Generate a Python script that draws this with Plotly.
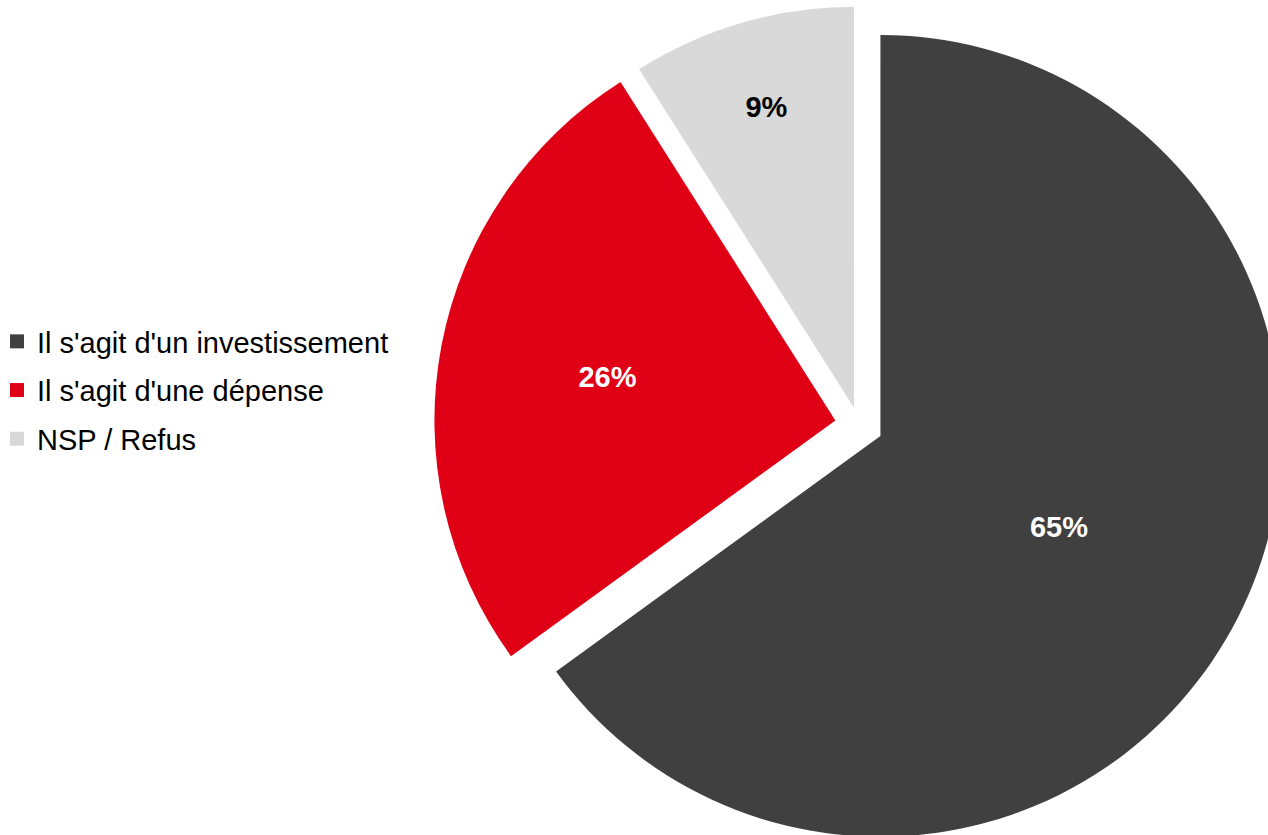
import plotly.graph_objects as go

# Survey answers and their shares (%)
labels = ["Il s'agit d'un investissement", "Il s'agit d'une dépense", "NSP / Refus"]
values = [65, 26, 9]
colors = ["#404040", "#E00016", "#D9D9D9"]
label_colors = ["#FFFFFF", "#FFFFFF", "#000000"]
pulls = [0.06, 0.06, 0.045]

W, H = 1284, 850

fig = go.Figure()

fig.add_trace(go.Pie(
    labels=labels,
    values=values,
    marker=dict(colors=colors, line=dict(width=0)),
    pull=pulls,
    sort=False,
    direction="clockwise",
    rotation=0,
    texttemplate="%{percent}",
    textposition="inside",
    insidetextorientation="horizontal",
    insidetextfont=dict(family="Arial, Liberation Sans, sans-serif", size=29,
                        color=label_colors, weight="bold"),
    domain=dict(x=[434 / W, 1.0], y=[0.0, 1.0]),
    showlegend=False,
    hoverinfo="label+percent",
))

# Legend entries, one group per answer so the rows can be spaced apart
for lab, col in zip(labels, colors):
    fig.add_trace(go.Scatter(
        x=[None], y=[None], mode="markers",
        marker=dict(symbol="square", size=14, color=col, line=dict(width=0)),
        name=lab, legendgroup=lab, showlegend=True, hoverinfo="skip",
    ))

fig.update_layout(
    width=W, height=H,
    margin=dict(l=0, r=0, t=0, b=0, autoexpand=False),
    paper_bgcolor="white", plot_bgcolor="white",
    xaxis=dict(visible=False), yaxis=dict(visible=False),
    legend=dict(
        x=-3 / W, xanchor="left",
        y=1 - 316 / H, yanchor="top",
        font=dict(family="Arial, Liberation Sans, sans-serif", size=29, color="#000000"),
        tracegroupgap=8,
        bgcolor="rgba(0,0,0,0)",
        itemclick=False, itemdoubleclick=False,
    ),
)

fig.write_html(
    "out.html",
    post_script="document.documentElement.style.overflow='hidden';"
                "document.body.style.overflow='hidden';",
)
